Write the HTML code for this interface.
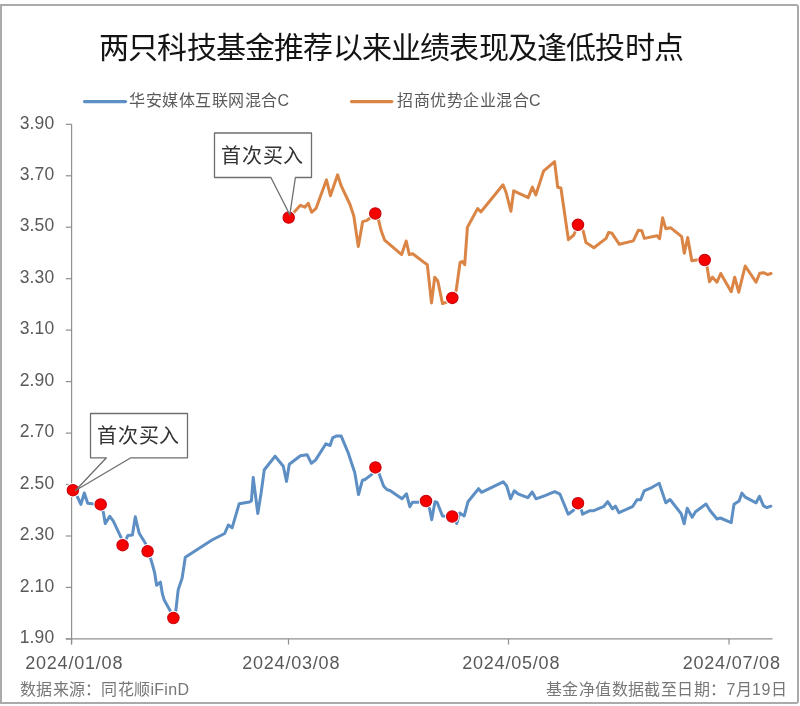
<!DOCTYPE html>
<html lang="zh-CN"><head><meta charset="utf-8">
<style>
html,body{margin:0;padding:0;background:#fff;}
body{width:800px;height:706px;position:relative;overflow:hidden;font-family:"Liberation Sans",sans-serif;-webkit-font-smoothing:antialiased;}
.frame{position:absolute;left:0;top:4px;width:795px;height:696px;border:2px solid #aaa;border-radius:0 3px 3px 0;}
.t{position:absolute;white-space:nowrap;will-change:transform;}
#title{left:99px;top:22.5px;font-size:30px;letter-spacing:-0.8px;color:#141414;}
.leg{font-size:16px;letter-spacing:0.5px;color:#595959;top:86.5px;}
.foot{font-size:16px;color:#777;top:675.5px;}
.cl{font-size:20px;letter-spacing:0.8px;color:#333;}
</style></head><body>
<div class="frame"></div>
<svg width="800" height="706" viewBox="0 0 800 706" style="position:absolute;left:0;top:0;will-change:transform">
<g stroke="#8f8f8f" stroke-width="1.2" fill="none">
<path d="M71.6 124.3 V644.5"/>
<path d="M65.8 124.3 H71.6"/>
<path d="M65.8 175.8 H71.6"/>
<path d="M65.8 227.2 H71.6"/>
<path d="M65.8 278.7 H71.6"/>
<path d="M65.8 330.1 H71.6"/>
<path d="M65.8 381.6 H71.6"/>
<path d="M65.8 433.1 H71.6"/>
<path d="M65.8 484.5 H71.6"/>
<path d="M65.8 536.0 H71.6"/>
<path d="M65.8 587.4 H71.6"/>
<path d="M65.8 638.9 H71.6"/>
<path d="M65.8 638.9 H772.5"/>
<path d="M71.5 638.9 V644.5"/>
<path d="M288.5 638.9 V644.5"/>
<path d="M508.5 638.9 V644.5"/>
<path d="M729 638.9 V644.5"/>
</g>
<g font-family="Liberation Sans, sans-serif" font-size="17.5" letter-spacing="0.2" fill="#595959" text-anchor="end">
<text x="54.5" y="128.5">3.90</text>
<text x="54.5" y="180.0">3.70</text>
<text x="54.5" y="231.4">3.50</text>
<text x="54.5" y="282.9">3.30</text>
<text x="54.5" y="334.3">3.10</text>
<text x="54.5" y="385.8">2.90</text>
<text x="54.5" y="437.3">2.70</text>
<text x="54.5" y="488.7">2.50</text>
<text x="54.5" y="540.2">2.30</text>
<text x="54.5" y="591.6">2.10</text>
<text x="54.5" y="643.1">1.90</text>
</g>
<g font-family="Liberation Sans, sans-serif" font-size="18" letter-spacing="0.8" fill="#595959" text-anchor="middle">
<text x="74.2" y="668.5">2024/01/08</text>
<text x="291.2" y="668.5">2024/03/08</text>
<text x="511.2" y="668.5">2024/05/08</text>
<text x="731.7" y="668.5">2024/07/08</text>
</g>
<path d="M72.9 490.2 L77.5 497.0 L80.9 504.4 L84.3 493.0 L87.7 503.2 L92.2 503.8 L100.7 504.4 L103.5 512.9 L105.2 523.6 L109.8 516.3 L113.2 520.8 L121.7 538.9 L122.6 545.2 L126.2 538.9 L127.9 535.5 L132.4 535.0 L135.3 516.8 L137.0 524.2 L139.2 533.3 L145.5 543.5 L147.6 551.3 L150.8 559.1 L152.7 565.5 L154.7 573.1 L156.6 585.3 L160.4 582.1 L162.3 593.5 L164.2 599.9 L170.6 611.4 L173.4 618.0 L175.7 612.0 L178.2 589.7 L182.1 578.2 L185.3 557.2 L212.0 540.0 L224.7 533.5 L228.3 525.0 L232.1 527.8 L239.2 503.7 L249.5 502.0 L251.4 500.9 L253.2 477.5 L257.8 513.6 L261.0 493.8 L264.3 469.8 L275.1 456.2 L283.3 466.3 L286.5 481.4 L289.3 464.2 L300.4 455.7 L307.2 454.8 L311.4 463.3 L315.7 459.9 L325.9 443.8 L330.1 445.5 L332.7 437.8 L336.1 436.1 L341.2 436.1 L348.0 452.3 L354.8 472.7 L358.5 494.5 L362.4 480.3 L365.0 479.5 L371.8 474.4 L375.5 467.5 L379.4 474.4 L383.7 486.3 L387.1 489.7 L390.0 490.5 L402.0 498.8 L406.5 493.8 L409.8 506.7 L412.5 502.2 L418.5 502.2 L426.0 501.0 L429.7 509.2 L431.7 519.7 L435.0 501.7 L437.2 502.5 L442.5 516.0 L452.2 516.5 L456.7 523.5 L459.7 513.0 L464.2 516.0 L468.0 501.7 L478.5 488.7 L481.5 492.3 L503.2 481.8 L506.7 486.0 L510.5 498.8 L514.2 490.8 L518.0 493.8 L527.7 497.7 L532.2 492.0 L536.0 498.8 L545.0 495.7 L554.7 491.7 L560.0 494.2 L563.7 503.2 L568.2 514.2 L573.5 510.3 L578.0 503.2 L581.7 510.7 L582.5 514.2 L590.0 510.7 L593.7 510.7 L603.5 506.7 L607.7 501.7 L612.5 508.8 L615.5 506.2 L619.0 512.7 L632.5 506.7 L637.0 499.8 L640.7 499.8 L644.2 490.8 L650.5 488.2 L659.2 483.3 L665.8 502.8 L670.0 499.5 L681.2 513.7 L684.2 523.8 L687.2 508.2 L692.2 517.2 L695.5 511.8 L706.0 504.0 L710.0 510.5 L717.0 519.0 L720.3 518.0 L731.2 522.6 L734.0 504.2 L739.1 501.0 L741.9 493.1 L745.3 497.2 L756.1 502.8 L759.5 496.3 L763.5 505.9 L766.9 507.6 L770.8 506.2" fill="none" stroke="#5d8fc4" stroke-width="3" stroke-linejoin="round" stroke-linecap="round"/>
<path d="M288.7 217.6 L294.0 212.3 L300.4 205.3 L304.9 207.2 L308.3 203.3 L311.6 212.3 L316.0 208.4 L326.5 179.8 L330.4 195.7 L337.6 174.8 L341.0 185.4 L350.0 204.5 L353.8 216.0 L358.3 246.6 L362.7 221.6 L367.0 220.4 L370.0 218.0 L375.3 213.5 L378.7 220.6 L381.2 230.8 L384.6 240.1 L401.6 254.6 L406.2 241.0 L409.3 254.6 L412.7 253.7 L425.0 263.1 L427.3 264.7 L431.5 302.9 L434.7 277.3 L437.8 281.0 L442.5 303.6 L446.8 302.1 L452.3 297.9 L456.2 290.4 L460.1 262.3 L462.4 261.5 L464.7 264.7 L467.4 227.3 L477.6 208.6 L481.0 211.8 L503.0 184.8 L506.1 192.5 L510.9 211.2 L513.7 190.8 L528.2 197.6 L532.4 187.1 L535.8 195.0 L543.5 171.2 L554.6 161.7 L557.7 187.2 L560.9 188.0 L568.4 239.7 L573.8 235.0 L578.0 224.8 L583.1 230.7 L586.0 242.6 L593.9 247.7 L606.1 238.4 L608.6 232.4 L612.0 233.3 L619.4 244.3 L633.3 240.9 L638.4 230.2 L641.8 230.7 L644.3 238.4 L657.1 235.8 L659.6 238.7 L662.6 217.8 L665.8 228.7 L670.5 227.7 L681.7 236.7 L684.3 253.2 L687.7 237.5 L691.8 260.7 L696.7 260.0 L704.7 260.0 L707.2 267.5 L709.5 281.7 L712.5 277.2 L717.0 282.2 L720.7 273.5 L731.2 291.8 L734.7 277.2 L738.7 292.2 L745.2 266.0 L756.0 282.2 L759.7 273.2 L763.5 272.7 L767.7 274.7 L771.0 273.5" fill="none" stroke="#da8545" stroke-width="3" stroke-linejoin="round" stroke-linecap="round"/>
<path d="M84.5 101.6 H125.5" stroke="#5d8fc4" stroke-width="3.2" stroke-linecap="round"/>
<path d="M351.5 101.6 H391.8" stroke="#da8545" stroke-width="3.2" stroke-linecap="round"/>
<circle cx="72.9" cy="490.2" r="7.2" fill="#fff"/>
<circle cx="72.9" cy="490.2" r="5.7" fill="#f60000" stroke="#c8000c" stroke-width="1.1"/>
<circle cx="100.7" cy="504.4" r="7.2" fill="#fff"/>
<circle cx="100.7" cy="504.4" r="5.7" fill="#f60000" stroke="#c8000c" stroke-width="1.1"/>
<circle cx="122.6" cy="545.2" r="7.2" fill="#fff"/>
<circle cx="122.6" cy="545.2" r="5.7" fill="#f60000" stroke="#c8000c" stroke-width="1.1"/>
<circle cx="147.6" cy="551.3" r="7.2" fill="#fff"/>
<circle cx="147.6" cy="551.3" r="5.7" fill="#f60000" stroke="#c8000c" stroke-width="1.1"/>
<circle cx="173.4" cy="618" r="7.2" fill="#fff"/>
<circle cx="173.4" cy="618" r="5.7" fill="#f60000" stroke="#c8000c" stroke-width="1.1"/>
<circle cx="375.4" cy="467.4" r="7.2" fill="#fff"/>
<circle cx="375.4" cy="467.4" r="5.7" fill="#f60000" stroke="#c8000c" stroke-width="1.1"/>
<circle cx="426" cy="501" r="7.2" fill="#fff"/>
<circle cx="426" cy="501" r="5.7" fill="#f60000" stroke="#c8000c" stroke-width="1.1"/>
<circle cx="452.2" cy="516.5" r="7.2" fill="#fff"/>
<circle cx="452.2" cy="516.5" r="5.7" fill="#f60000" stroke="#c8000c" stroke-width="1.1"/>
<circle cx="578" cy="503.2" r="7.2" fill="#fff"/>
<circle cx="578" cy="503.2" r="5.7" fill="#f60000" stroke="#c8000c" stroke-width="1.1"/>
<circle cx="288.7" cy="217.6" r="7.2" fill="#fff"/>
<circle cx="288.7" cy="217.6" r="5.7" fill="#f60000" stroke="#c8000c" stroke-width="1.1"/>
<circle cx="375.3" cy="213.5" r="7.2" fill="#fff"/>
<circle cx="375.3" cy="213.5" r="5.7" fill="#f60000" stroke="#c8000c" stroke-width="1.1"/>
<circle cx="452.3" cy="297.9" r="7.2" fill="#fff"/>
<circle cx="452.3" cy="297.9" r="5.7" fill="#f60000" stroke="#c8000c" stroke-width="1.1"/>
<circle cx="578" cy="224.8" r="7.2" fill="#fff"/>
<circle cx="578" cy="224.8" r="5.7" fill="#f60000" stroke="#c8000c" stroke-width="1.1"/>
<circle cx="704.7" cy="260" r="7.2" fill="#fff"/>
<circle cx="704.7" cy="260" r="5.7" fill="#f60000" stroke="#c8000c" stroke-width="1.1"/>
<path d="M214.5 133 H311.5 V177.5 H295.4 L289.8 214.8 L270.9 177.5 H214.5 Z" fill="#fff" stroke="#6e6e6e" stroke-width="1.3" stroke-linejoin="round"/>
<path d="M90.5 413.5 H187.5 V457.8 H130.9 L75.5 490.5 L106.4 457.8 H90.5 Z" fill="#fff" stroke="#6e6e6e" stroke-width="1.3" stroke-linejoin="round"/>
</svg>
<div class="t" id="title">两只科技基金推荐以来业绩表现及逢低投时点</div>
<div class="t leg" style="left:129px">华安媒体互联网混合C</div>
<div class="t leg" style="left:396.5px">招商优势企业混合C</div>
<div class="t cl" style="left:221px;top:139.5px">首次买入</div>
<div class="t cl" style="left:97px;top:419.5px">首次买入</div>
<div class="t foot" style="left:20px;letter-spacing:0.3px">数据来源：同花顺iFinD</div>
<div class="t foot" style="right:12.5px;letter-spacing:0.4px">基金净值数据截至日期：7月19日</div>
</body></html>
